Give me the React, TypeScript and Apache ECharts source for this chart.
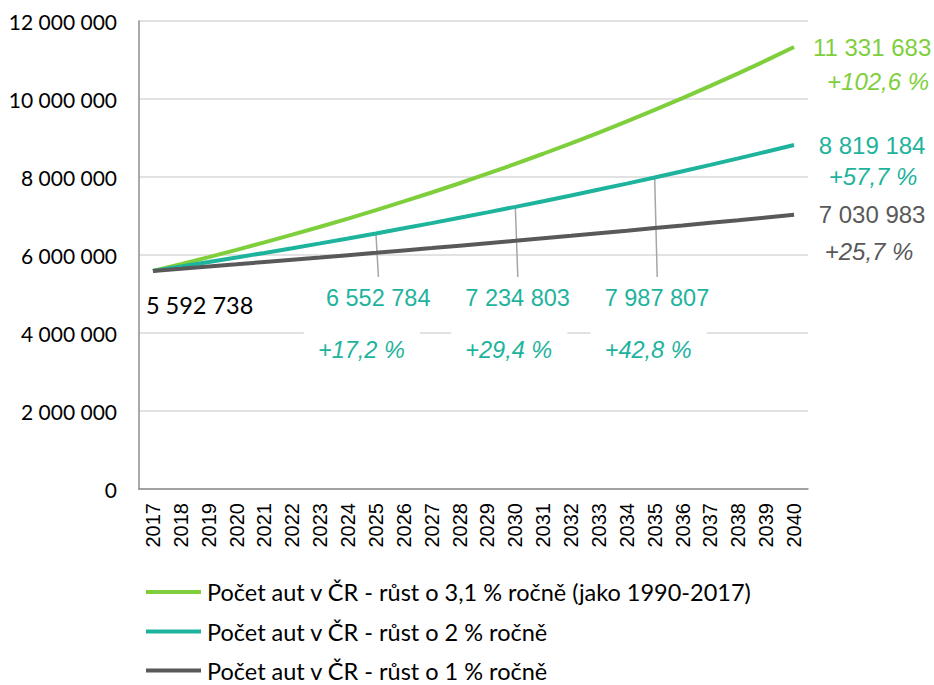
import React, { useEffect, useRef } from 'react';
import * as echarts from 'echarts';

const years = ['2017','2018','2019','2020','2021','2022','2023','2024','2025','2026','2027','2028','2029','2030','2031','2032','2033','2034','2035','2036','2037','2038','2039','2040'];

const growth31 = [5592738, 5767117, 5946926, 6132325, 6323551, 6520685, 6723981, 6933653, 7149868, 7372794, 7602657, 7839677, 8084136, 8336200, 8596151, 8864154, 9140545, 9425546, 9719439, 10022522, 10335042, 10657296, 10989560, 11331683];
const growth2 = [5592738, 5704593, 5818685, 5935058, 6053759, 6174834, 6298331, 6424297, 6552784, 6683839, 6817516, 6953866, 7092943, 7234803, 7379498, 7527088, 7677630, 7831182, 7987807, 8147562, 8310513, 8476723, 8646258, 8819184];
const growth1 = [5592738, 5648665, 5705152, 5762204, 5819826, 5878024, 5936805, 5996173, 6056134, 6116696, 6177863, 6239641, 6302038, 6365058, 6428709, 6492996, 6557926, 6623505, 6689740, 6756637, 6824204, 6892446, 6961370, 7030983];

const seriesNames = [
  'Počet aut v ČR - růst o 3,1 % ročně (jako 1990-2017)',
  'Počet aut v ČR - růst o 2 % ročně',
  'Počet aut v ČR - růst o 1 % ročně',
];
const seriesColors = ['#7fcf3d', '#1eb39d', '#595959'];
const endPct = ['+102,6 %', '+57,7 %', '+25,7 %'];

const midYears = ['2025', '2030', '2035'];
const midPct = ['+17,2 %', '+29,4 %', '+42,8 %'];

const yMin = 0;
const yMax = 12000000;
const yInterval = 2000000;

const fmt = (n: number) => String(Math.round(n)).replace(/\B(?=(\d{3})+(?!\d))/g, ' ');

export default function App() {
  const ref = useRef<HTMLDivElement>(null);
  useEffect(() => {
    const chart = echarts.init(ref.current!, null, { renderer: 'svg' });
    const allSeries = [growth31, growth2, growth1];
    const legendTops = [580, 619.5, 658.5];
    chart.setOption({
      animation: false,
      backgroundColor: '#ffffff',
      grid: { left: 139, right: 126, top: 21, bottom: 196, containLabel: false },
      legend: seriesNames.map((n, i) => ({
        orient: 'horizontal',
        left: 146,
        top: legendTops[i],
        icon: 'rect',
        itemWidth: 55,
        itemHeight: 4,
        padding: 0,
        textStyle: { fontFamily: 'Lato', fontSize: 23.5, color: '#000', lineHeight: 24, padding: [0, 0, 0, 1] },
        data: [n],
      })),
      xAxis: {
        type: 'category',
        data: years,
        boundaryGap: true,
        axisLine: { show: true, lineStyle: { color: '#8c8c8c', width: 1.5 } },
        axisTick: { show: false },
        axisLabel: {
          rotate: 90,
          interval: 0,
          margin: 14,
          fontFamily: 'Liberation Sans',
          fontSize: 20,
          color: '#000',
        },
      },
      yAxis: {
        type: 'value',
        min: yMin,
        max: yMax,
        interval: yInterval,
        axisLine: { show: true, lineStyle: { color: '#8c8c8c', width: 1.5 } },
        axisTick: { show: false },
        splitLine: { lineStyle: { color: '#d9d9d9', width: 1.5 } },
        axisLabel: {
          margin: 22,
          fontFamily: 'Lato',
          fontSize: 21,
          color: '#000',
          formatter: (v: number) => fmt(v),
        },
      },
      series: allSeries.map((d, i) => ({
        name: seriesNames[i],
        type: 'line',
        data: d,
        symbol: 'none',
        showSymbol: false,
        color: seriesColors[i],
        lineStyle: { color: seriesColors[i], width: 4 },
        z: 3 + i,
      })),
    });

    const g: any[] = [];
    const txt = (x: number, y: number, text: string, fill: string, size: number, family: string, italic: boolean, align: string) => ({
      type: 'text',
      x,
      y,
      z: 20,
      style: {
        text,
        fill,
        fontSize: size,
        fontFamily: family,
        fontStyle: italic ? 'italic' : 'normal',
        align,
        verticalAlign: 'middle',
        textAlign: align,
        textVerticalAlign: 'middle',
      },
    });

    // Mid annotations on the 2 % series
    const pctDx = [-8, 0, 0];
    midYears.forEach((yr, k) => {
      const idx = years.indexOf(yr);
      const val = growth2[idx];
      const p = chart.convertToPixel({ xAxisIndex: 0, yAxisIndex: 0 }, [yr, val]) as number[];
      g.push({
        type: 'line',
        z: 2,
        shape: { x1: p[0], y1: p[1], x2: p[0] + 2.5, y2: 277 },
        style: { stroke: '#a6a6a6', lineWidth: 1.5 },
      });
      const valText = fmt(val);
      const left = p[0] + 2.5 - 52.5;
      g.push({
        type: 'rect',
        z: 15,
        shape: { x: left + pctDx[k] - 14, y: 322, width: 116, height: 45 },
        style: { fill: '#ffffff' },
      });
      g.push(txt(left, 298, valText, seriesColors[1], 23.5, 'Liberation Sans', false, 'left'));
      g.push(txt(left + pctDx[k], 350, midPct[k], seriesColors[1], 23.5, 'Liberation Sans', true, 'left'));
    });

    // End labels
    const pctDy = [34, 31, 37];
    const pctDx2 = [84, 79, 75];
    allSeries.forEach((d, i) => {
      const last = d.length - 1;
      const p = chart.convertToPixel({ xAxisIndex: 0, yAxisIndex: 0 }, [years[last], d[last]]) as number[];
      g.push(txt(p[0] + 78, p[1], fmt(d[last]), seriesColors[i], 24, 'Liberation Sans', false, 'center'));
      g.push(txt(p[0] + pctDx2[i], p[1] + pctDy[i], endPct[i], seriesColors[i], 24, 'Liberation Sans', true, 'center'));
    });

    // Start label
    const p0 = chart.convertToPixel({ xAxisIndex: 0, yAxisIndex: 0 }, [years[0], growth2[0]]) as number[];
    g.push(txt(p0[0] - 7, p0[1] + 34, fmt(growth2[0]), '#000000', 23.5, 'Lato', false, 'left'));

    chart.setOption({ graphic: g });
    return () => chart.dispose();
  }, []);
  return <div ref={ref} style={{ position: 'fixed', left: 0, top: 0, width: 934, height: 685 }} />;
}
